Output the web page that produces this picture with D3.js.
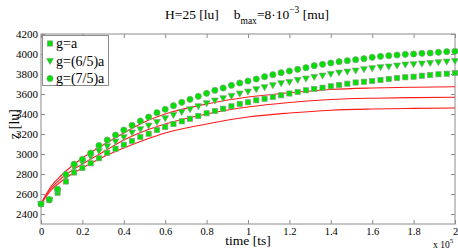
<!DOCTYPE html>
<html>
<head>
<meta charset="utf-8">
<script src="https://cdn.jsdelivr.net/npm/d3@7"></script>
<style>
  body { margin: 0; background: #fff; }
  svg { display: block; }
</style>
</head>
<body>
<svg id="chart" width="458" height="250"></svg>
<script>
// time in units of 1e5 [ts]
var times = [0, 0.04, 0.08, 0.12, 0.16, 0.20, 0.24, 0.28, 0.32, 0.36, 0.40, 0.44, 0.48, 0.52, 0.56, 0.60,
    0.64, 0.68, 0.72, 0.76, 0.80, 0.84, 0.88, 0.92, 0.96, 1.00, 1.04, 1.08, 1.12, 1.16, 1.20, 1.24, 1.28,
    1.32, 1.36, 1.40, 1.44, 1.48, 1.52, 1.56, 1.60, 1.64, 1.68, 1.72, 1.76, 1.80, 1.84, 1.88, 1.92, 1.96, 2.00]

var gA = [2500, 2540, 2613, 2725, 2815, 2860, 2907, 2957, 3013, 3053, 3093, 3130, 3170, 3203, 3240, 3270,
    3300, 3327, 3353, 3380, 3407, 3430, 3453, 3477, 3500, 3517, 3537, 3553, 3570, 3587, 3605, 3620, 3637,
    3650, 3663, 3677, 3690, 3703, 3715, 3723, 3730, 3740, 3750, 3760, 3767, 3773, 3783, 3790, 3797, 3803, 3810]

var g65 = [2500, 2540, 2630, 2773, 2865, 2915, 2973, 3030, 3077, 3123, 3167, 3213, 3247, 3283, 3320, 3357,
    3390, 3420, 3447, 3477, 3507, 3533, 3557, 3580, 3603, 3623, 3647, 3667, 3687, 3707, 3720, 3740, 3753,
    3770, 3783, 3800, 3813, 3823, 3833, 3847, 3857, 3867, 3873, 3883, 3893, 3897, 3903, 3910, 3917, 3923, 3930]

var g75 = [2500, 2545, 2648, 2795, 2898, 2947, 3010, 3085, 3140, 3190, 3240, 3287, 3330, 3370, 3413, 3447,
    3483, 3517, 3547, 3577, 3607, 3637, 3660, 3687, 3710, 3730, 3750, 3773, 3793, 3813, 3830, 3847, 3863,
    3883, 3897, 3910, 3923, 3933, 3943, 3953, 3967, 3977, 3983, 3990, 3997, 4000, 4007, 4010, 4017, 4023, 4027]

// red model curves
var fitTimes = [0, 0.02, 0.05, 0.1, 0.2, 0.3, 0.4, 0.5, 0.6, 0.8, 1.0, 1.2, 1.4, 1.6, 1.8, 2.0]
var fitTop = [2500, 2580, 2680, 2790, 2960, 3090, 3210, 3320, 3400, 3500, 3570, 3612, 3645, 3660, 3668, 3673]
var fitMid = [2500, 2570, 2660, 2760, 2900, 3020, 3140, 3230, 3300, 3400, 3470, 3515, 3545, 3558, 3564, 3567]
var fitLow = [2500, 2560, 2640, 2730, 2860, 2970, 3060, 3140, 3210, 3300, 3370, 3410, 3438, 3450, 3456, 3460]

var xTicks = [0, 0.2, 0.4, 0.6, 0.8, 1, 1.2, 1.4, 1.6, 1.8, 2]
var yTicks = [2400, 2600, 2800, 3000, 3200, 3400, 3600, 3800, 4000, 4200]
var legendLabels = ["g=a", "g=(6/5)a", "g=(7/5)a"]

var pLeft = 41, pRight = 455, pTop = 34, pBottom = 224
var frameColor = "#8c8c8c"
var green = "#00e000"
var edge = "#80a080"
var serifFont = "'Liberation Serif', 'Times New Roman', serif"

var svg = d3.select("#chart")

var x = d3.scaleLinear().domain([0, 2]).range([pLeft, pRight])
var y = d3.scaleLinear().domain([2300, 4200]).range([pBottom, pTop])

// frame
svg.append("rect")
    .attr("x", pLeft).attr("y", pTop)
    .attr("width", pRight - pLeft).attr("height", pBottom - pTop)
    .attr("fill", "none").attr("stroke", frameColor).attr("stroke-width", 1)

// axes with inward ticks
var xAxis = svg.append("g").attr("transform", "translate(0," + pBottom + ")")
    .call(d3.axisBottom(x).tickValues(xTicks).tickSizeInner(-4).tickSizeOuter(0).tickPadding(4)
        .tickFormat(function(d) { return d }))
var xAxisTop = svg.append("g").attr("transform", "translate(0," + pTop + ")")
    .call(d3.axisTop(x).tickValues(xTicks).tickSizeInner(-4).tickSizeOuter(0).tickFormat(""))
var yAxis = svg.append("g").attr("transform", "translate(" + pLeft + ",0)")
    .call(d3.axisLeft(y).tickValues(yTicks).tickSizeInner(-4).tickSizeOuter(0).tickPadding(3)
        .tickFormat(d3.format("d")))
var yAxisRight = svg.append("g").attr("transform", "translate(" + pRight + ",0)")
    .call(d3.axisRight(y).tickValues(yTicks).tickSizeInner(-4).tickSizeOuter(0).tickFormat(""))

svg.selectAll(".domain").remove()
svg.selectAll(".tick line").attr("stroke", frameColor)
xAxis.selectAll(".tick text").style("font-size", "10.5px")
yAxis.selectAll(".tick text").style("font-size", "11px")

// red lines
var line = d3.line()
    .x(function(d) { return x(d[0]) })
    .y(function(d) { return y(d[1]) })
    .curve(d3.curveMonotoneX);

[fitTop, fitMid, fitLow].forEach(function(s) {
    svg.append("path")
        .datum(fitTimes.map(function(t, i) { return [t, s[i]] }))
        .attr("d", line)
        .attr("fill", "none")
        .attr("stroke", "#ff1a1a")
        .attr("stroke-width", 1.1)
})

// markers
function drawMarker(g, kind, cx, cy) {
    if (kind === 0) {
        g.append("rect").attr("x", cx - 2.6).attr("y", cy - 2.6).attr("width", 5.2).attr("height", 5.2)
            .attr("fill", green).attr("stroke", edge).attr("stroke-width", 0.7)
    } else if (kind === 1) {
        g.append("path")
            .attr("d", "M" + (cx - 3.4) + "," + (cy - 2.6) + "L" + (cx + 3.4) + "," + (cy - 2.6) + "L" + cx + "," + (cy + 3.4) + "Z")
            .attr("fill", green).attr("stroke", edge).attr("stroke-width", 0.7)
    } else {
        g.append("circle").attr("cx", cx).attr("cy", cy).attr("r", 3.1)
            .attr("fill", green).attr("stroke", edge).attr("stroke-width", 0.7)
    }
}

var series = [gA, g65, g75]
var marks = svg.append("g")
series.forEach(function(s, k) {
    s.forEach(function(v, i) {
        drawMarker(marks, k, x(times[i]), y(v))
    })
})

// legend
var lg = svg.append("g")
lg.append("rect")
    .attr("x", 42.5).attr("y", 35.5).attr("width", 66).attr("height", 50)
    .attr("fill", "#fff").attr("stroke", frameColor)
legendLabels.forEach(function(l, i) {
    var ly = 43.5 + i * 17.5
    drawMarker(lg, i, 50, ly)
    lg.append("text").attr("x", 56).attr("y", ly + 4.5)
        .style("font-size", "14px").text(l)
})

// axis labels
svg.append("text")
    .attr("x", 248).attr("y", 245)
    .attr("text-anchor", "middle").style("font-size", "13.5px")
    .text("time [ts]")

svg.append("text")
    .attr("transform", "translate(19,124) rotate(-90)")
    .attr("text-anchor", "middle").style("font-size", "14px")
    .text("z [lu]")

var expo = svg.append("text").attr("x", 433).attr("y", 247.5).style("font-size", "9.5px")
expo.append("tspan").text("x 10")
expo.append("tspan").attr("dy", -5).style("font-size", "7px").text("5")

// title
var title = svg.append("text")
    .attr("x", 247).attr("y", 19)
    .attr("text-anchor", "middle").style("font-size", "13.5px")
title.append("tspan").text("H=25 [lu]")
title.append("tspan").attr("dx", 15).text("b")
title.append("tspan").attr("dy", 5).style("font-size", "9.5px").text("max")
title.append("tspan").attr("dy", -5).text("=8·10")
title.append("tspan").attr("dy", -6).style("font-size", "9.5px").text("−3")
title.append("tspan").attr("dy", 6).text(" [mu]")

svg.selectAll("text").style("font-family", serifFont).style("fill", "#000")
</script>
</body>
</html>
